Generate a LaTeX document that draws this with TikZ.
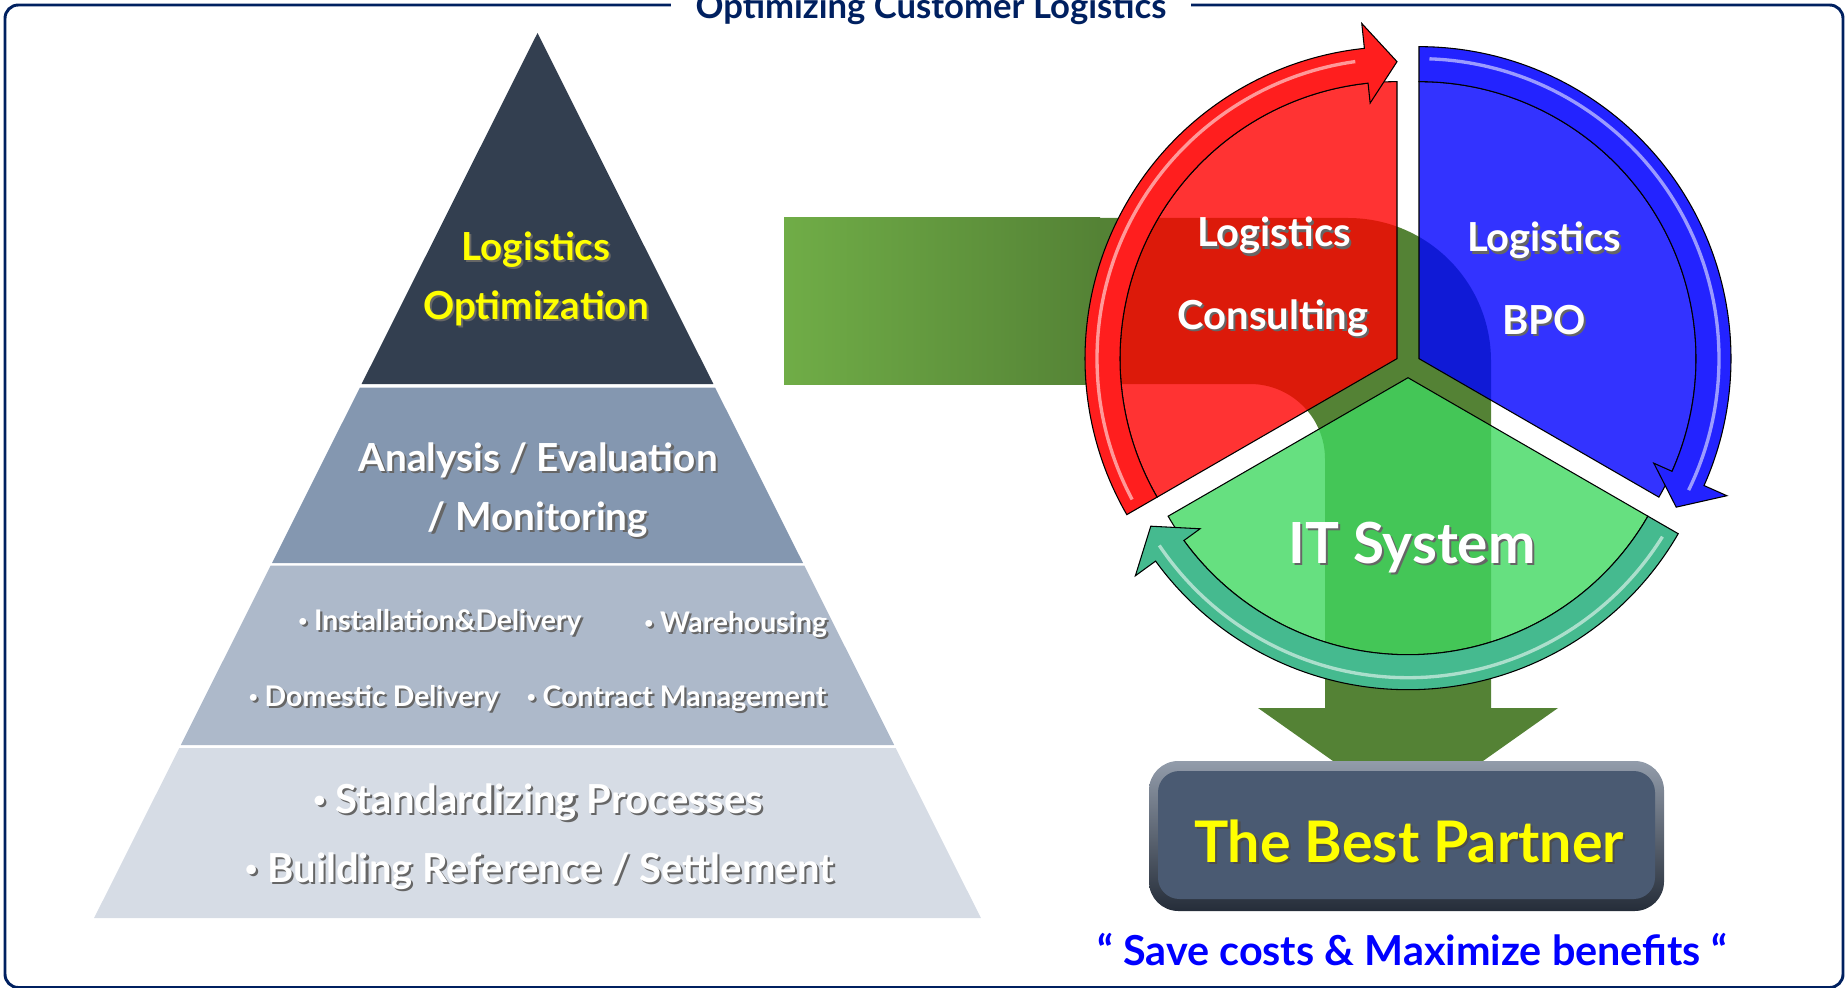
\documentclass[tikz,border=0pt]{standalone}
\usepackage{fontspec}
\setmainfont{Lato}
\definecolor{framenavy}{RGB}{0,32,96}
\definecolor{tierone}{RGB}{51,63,80}
\definecolor{tiertwo}{RGB}{132,151,176}
\definecolor{tierthree}{RGB}{173,185,202}
\definecolor{tierfour}{RGB}{214,220,229}
\definecolor{arrowlight}{RGB}{112,173,71}
\definecolor{arrowdark}{RGB}{84,130,53}
\definecolor{consulting}{RGB}{255,0,0}
\definecolor{bpo}{RGB}{0,0,255}
\definecolor{itsystem}{RGB}{64,216,96}
\definecolor{redband}{RGB}{255,30,30}
\definecolor{blueband}{RGB}{35,35,255}
\definecolor{tealband}{RGB}{69,186,143}
\definecolor{partnerbox}{RGB}{74,90,114}
\definecolor{slogan}{RGB}{0,0,255}
\definecolor{highlight}{RGB}{255,255,0}

\newcommand{\shadowed}[2][black!60]{\makebox[0pt][l]{\hspace{1.6pt}\raisebox{-1.6pt}{\color{#1}#2}}#2}
\newcommand{\smallbullet}{\raisebox{0.14em}{\scalebox{0.55}{•}}}

\begin{document}
\begin{tikzpicture}[x=0.75pt, y=-0.75pt]
    \tikzstyle{every node} = [inner sep=0pt, anchor=base]
    \tikzstyle{pyrlabel} = [text=white, font=\bfseries\fontsize{29}{32}\selectfont]
    \tikzstyle{pyrsmall} = [text=white, font=\bfseries\fontsize{21.3}{25}\selectfont, anchor=base west]
    \tikzstyle{pyrbase} = [text=white, font=\bfseries\fontsize{30}{34}\selectfont]
    \tikzstyle{seglabel} = [text=white, font=\bfseries\fontsize{30}{34}\selectfont]
    \tikzstyle{sector} = [draw=black, line width=0.8pt, fill opacity=0.8]
    \tikzstyle{band} = [draw=black, line width=0.8pt]
    \tikzstyle{gloss} = [white, opacity=0.55, line width=2.5pt]
    \useasboundingbox (0,0) rectangle (1846,988);

    % frame and title
    \draw[framenavy, line width=2.2pt, rounded corners=10pt] (5,5) rectangle (1843,987.5);
    \node[fill=white, minimum width=390pt, text=framenavy,
          font=\bfseries\fontsize{26}{30}\selectfont] (title) at (931,19)
        {Optimizing Customer Logistics};

    % pyramid
    \fill[tierone] (537.5,33) -- (713.4,384) -- (361.6,384) -- cycle;
    \fill[tiertwo] (359.9,387.5) -- (715.1,387.5) -- (803,563) -- (272,563) -- cycle;
    \fill[tierthree] (270.7,565.5) -- (804.3,565.5) -- (894.2,745) -- (180.8,745) -- cycle;
    \fill[tierfour] (179.3,748) -- (895.7,748) -- (980.9,918) -- (94.1,918) -- cycle;

    \node[pyrlabel, text=highlight] (optlog) at (536,260) {\shadowed{Logistics}};
    \node[pyrlabel, text=highlight] (optopt) at (536,319) {\shadowed{Optimization}};
    \node[pyrlabel] (analysis) at (538,471) {\shadowed{Analysis / Evaluation}};
    \node[pyrlabel] (monitoring) at (538,530) {\shadowed{/ Monitoring}};

    \node[pyrsmall] (install) at (298,630) {\shadowed{\smallbullet{} Installation\&Delivery}};
    \node[pyrsmall] (warehouse) at (644,632) {\shadowed{\smallbullet{} Warehousing}};
    \node[pyrsmall] (domestic) at (248.5,706) {\shadowed{\smallbullet{} Domestic Delivery}};
    \node[pyrsmall] (contract) at (526.5,706) {\shadowed{\smallbullet{} Contract Management}};

    \node[pyrbase] (standard) at (538,813) {\shadowed{\smallbullet{} Standardizing Processes}};
    \node[pyrbase] (reference) at (539.5,882) {\shadowed{\smallbullet{} Building Reference / Settlement}};

    % bent arrow behind the cycle
    \fill[arrowdark] (784,218) -- (1348,218) arc (270:360:143) -- (1491,708)
        -- (1558,708) -- (1408,814) -- (1258,708) -- (1325,708) -- (1325,459)
        arc (0:-90:75) -- (784,384) -- cycle;
    \shade[left color=arrowlight, right color=arrowdark] (784,218) rectangle (1100,384);

    % cycle
    \begin{scope}[shift={(1408,365)}, y=0.75pt]
        \begin{scope}[shift={(150:12.7)}]
            \fill[consulting, sector] (0,0) -- (90:277) arc (90:210:277) -- cycle;
            \filldraw[fill=redband, band] (210:277) -- (210:312) arc (210:96:312)
                -- (96:337) -- (90:297) -- (96:257) -- (96:277) arc (96:210:277) -- cycle;
            \draw[gloss] (208:300) arc (208:98:300);
        \end{scope}
        \begin{scope}[shift={(30:12.7)}]
            \fill[bpo, sector] (0,0) -- (90:277) arc (90:-30:277) -- cycle;
            \filldraw[fill=blueband, band] (90:277) -- (90:312) arc (90:-24:312)
                -- (-24:337) -- (-30:297) -- (-24:257) -- (-24:277) arc (-24:90:277) -- cycle;
            \draw[gloss] (88:300) arc (88:-26:300);
        \end{scope}
        \begin{scope}[shift={(270:12.7)}]
            \fill[itsystem, sector] (0,0) -- (-30:277) arc (-30:-150:277) -- cycle;
            \filldraw[fill=tealband, band] (-30:277) -- (-30:312) arc (-30:-144:312)
                -- (-144:337) -- (-150:297) -- (-144:257) -- (-144:277) arc (-144:-30:277) -- cycle;
            \draw[gloss] (-32:300) arc (-32:-146:300);
        \end{scope}
    \end{scope}

    \node[seglabel] (conslog) at (1274,247) {\shadowed{Logistics}};
    \node[seglabel] (conscon) at (1273,329) {\shadowed{Consulting}};
    \node[seglabel] (bpolog) at (1544,252) {\shadowed{Logistics}};
    \node[seglabel] (bpobpo) at (1544,334) {\shadowed{BPO}};
    \node[seglabel, font=\bfseries\fontsize{42.5}{46}\selectfont] (itsys) at (1412,563) {\shadowed{IT System}};

    % result box
    \shade[top color=partnerbox!60!white, bottom color=partnerbox!50!black, rounded corners=22pt]
        (1149,761) rectangle (1664,911);
    \fill[partnerbox, rounded corners=16pt] (1158,771) rectangle (1655,899);
    \node[text=highlight, font=\bfseries\fontsize{43}{48}\selectfont] (partner) at (1409,862)
        {\shadowed[black!70]{The Best Partner}};
    \node[text=slogan, font=\bfseries\fontsize{31}{36}\selectfont] (motto) at (1412,965)
        {“ Save costs \& Maximize benefits “};
\end{tikzpicture}
\end{document}
